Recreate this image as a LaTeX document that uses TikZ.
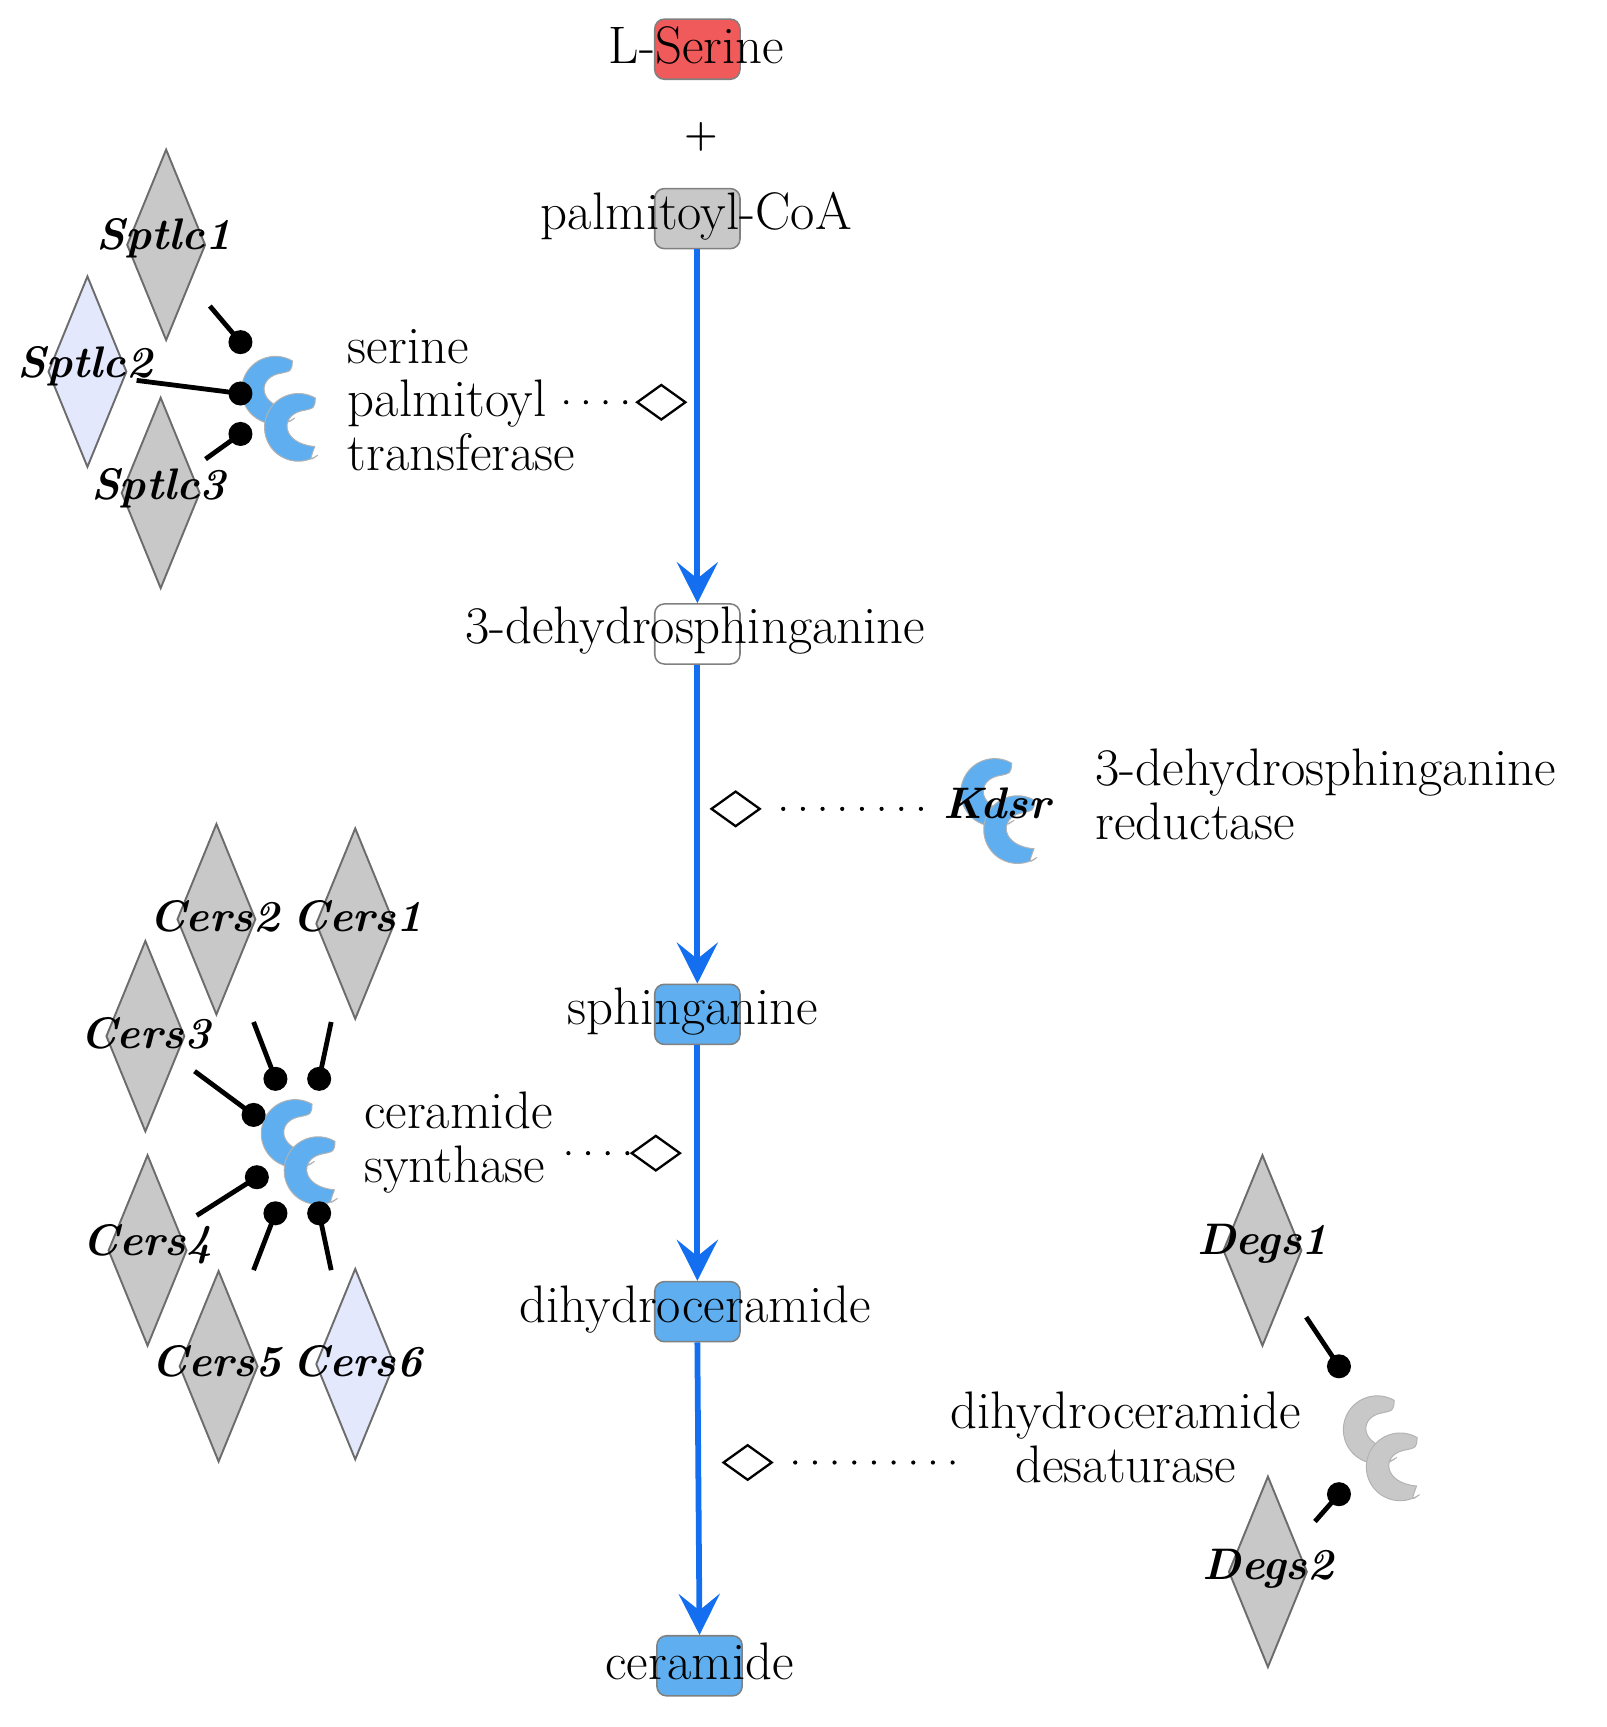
\documentclass[tikz,border=0pt]{standalone}
\usepackage{fontspec}
\usetikzlibrary{shapes.geometric,arrows.meta}
\definecolor{pblue}{RGB}{95,175,240}
\definecolor{arblue}{RGB}{20,110,240}
\definecolor{sred}{RGB}{240,90,90}
\definecolor{lav}{RGB}{228,232,252}
\definecolor{dgray}{RGB}{200,200,200}
\begin{document}
\begin{tikzpicture}[x=0.02cm,y=-0.02cm,
  txt/.style={font=\fontsize{27.5}{28}\selectfont,inner sep=0},
  gl/.style={font=\fontsize{23}{25}\selectfont\bfseries\itshape,inner sep=0},
  box/.style={draw=gray,line width=0.8pt,rounded corners=5pt,minimum width=1.56cm,minimum height=1.1cm,inner sep=0},
  gene/.style={diamond,draw=gray!85!black,line width=1pt,fill=dgray,minimum width=1.44cm,minimum height=3.5cm,inner sep=0,aspect=0.41},
  cat/.style={diamond,draw,line width=1.2pt,fill=white,minimum width=0.9cm,minimum height=0.65cm,inner sep=0},
  rx/.style={arblue,line width=3pt,-{Stealth[length=0.75cm,width=0.75cm,inset=0.3cm]}},
  dots/.style={line width=2.2pt,dash pattern=on 0pt off 0.36cm,line cap=round},
  ball/.style={circle,fill=black,minimum size=0.44cm,inner sep=0},
  lnk/.style={line width=2.5pt},
  cres/.pic={\fill[#1,draw=gray!60,line width=0.5pt] (60:0.62cm) arc[start angle=60,end angle=305,radius=0.62cm] .. controls (0.2cm,-0.62cm) .. (0.3cm,-0.35cm) .. controls (-0.3cm,-0.3cm) and (-0.35cm,0.2cm) .. (0.05cm,0.3cm) .. controls (0.3cm,0.35cm) .. cycle;},
  prot/.pic={\pic at (-0.2cm,0.3cm) {cres=#1}; \pic at (0.22cm,-0.38cm) {cres=#1};}
]
\useasboundingbox (0,0) rectangle (1470,1580);
% metabolite boxes
\node[box,fill=sred] (ser) at (638,45) {};
\node[txt] at (637,42) {L-Serine};
\node[txt,font=\fontsize{20}{20}\selectfont\bfseries] (plus) at (642,125) {+};
\node[box,fill=dgray] (pal) at (638,200) {};
\node[txt] at (637,198) {palmitoyl-CoA};
\node[box,fill=white] (dhs) at (638,580) {};
\node[txt] at (636,577) {3-dehydrosphinganine};
\node[box,fill=pblue] (sph) at (638,928) {};
\node[txt] at (634,925) {sphinganine};
\node[box,fill=pblue] (dhc) at (638,1200) {};
\node[txt] at (636,1198) {dihydroceramide};
\node[box,fill=pblue] (cer) at (640,1524) {};
\node[txt] at (640,1520) {ceramide};
\draw[rx] (pal.south) -- (dhs.north);
\draw[rx] (dhs.south) -- (sph.north);
\draw[rx] (sph.south) -- (dhc.north);
\draw[rx] (dhc.south) -- (cer.north);
% catalysis diamonds
\node[cat] (c1) at (605,368) {};
\node[cat] (c2) at (673,740) {};
\node[cat] (c3) at (600,1055) {};
\node[cat] (c4) at (684,1338) {};
% serine palmitoyltransferase
\node[gene] (s1) at (152,224) {};
\node[gene,fill=lav] (s2) at (80,340) {};
\node[gene] (s3) at (147,451) {};
\node[gl] at (150,218) {Sptlc1};
\node[gl] at (78,335) {Sptlc2};
\node[gl] at (145,447) {Sptlc3};
\pic at (262,372) {prot=pblue};
\node[ball] (b1) at (220,313) {};
\node[ball] (b2) at (220,360) {};
\node[ball] (b3) at (220,397) {};
\coordinate (l1) at (192,280); \coordinate (l2) at (125,348); \coordinate (l3) at (188,420);
\draw[lnk] (l1) -- (b1.center); \draw[lnk] (l2) -- (b2.center); \draw[lnk] (l3) -- (b3.center);
\node[txt,align=left,anchor=west] (spt) at (318,366) {serine\\palmitoyl\\transferase};
\coordinate (d1) at (518,368);
\draw[dots] (d1) -- (c1.west);
% Kdsr
\pic at (920,740) {prot=pblue};
\node[gl] (kdsr) at (912,735) {Kdsr};
\node[txt,align=left,anchor=west] at (1002,727) {3-dehydrosphinganine\\reductase};
\draw[dots] (c2.east) ++(20,0) -- (852,740);
% ceramide synthase
\node[gene] (g2) at (198,841) {};
\node[gene] (g1) at (325,845) {};
\node[gene] (g3) at (133,948) {};
\node[gene] (g4) at (135,1144) {};
\node[gene] (g5) at (200,1250) {};
\node[gene,fill=lav] (g6) at (325,1248) {};
\node[gl] at (196,838) {Cers2};
\node[gl] at (327,838) {Cers1};
\node[gl] at (133,945) {Cers3};
\node[gl] at (135,1138) {Cers4};
\node[gl] at (198,1245) {Cers5};
\node[gl] at (327,1245) {Cers6};
\pic at (280,1052) {prot=pblue};
\node[ball] (k1) at (252,987) {};
\node[ball] (k2) at (292,987) {};
\node[ball] (k3) at (232,1020) {};
\node[ball] (k4) at (235,1077) {};
\node[ball] (k5) at (252,1110) {};
\node[ball] (k6) at (292,1110) {};
\coordinate (m1) at (232,935); \coordinate (m2) at (303,935); \coordinate (m3) at (178,980);
\coordinate (m4) at (180,1112); \coordinate (m5) at (232,1162); \coordinate (m6) at (303,1162);
\foreach \i in {1,...,6} {\draw[lnk] (m\i) -- (k\i.center);}
\node[txt,align=left,anchor=west] at (333,1045) {ceramide\\synthase};
\coordinate (d3) at (520,1055);
\draw[dots] (d3) -- (c3.west);
% desaturase
\node[gene] (e1) at (1155,1144) {};
\node[gene] (e2) at (1160,1438) {};
\node[gl] at (1155,1138) {Degs1};
\node[gl] at (1160,1435) {Degs2};
\pic at (1270,1323) {prot=dgray};
\node[ball] (f1) at (1225,1250) {};
\node[ball] (f2) at (1225,1367) {};
\coordinate (n1) at (1195,1205); \coordinate (n2) at (1203,1392);
\draw[lnk] (n1) -- (f1.center); \draw[lnk] (n2) -- (f2.center);
\node[txt,align=center] at (1030,1315) {dihydroceramide\\desaturase};
\coordinate (d4) at (880,1338);
\draw[dots] (c4.east) ++(20,0) -- (d4);
\end{tikzpicture}
\end{document}
